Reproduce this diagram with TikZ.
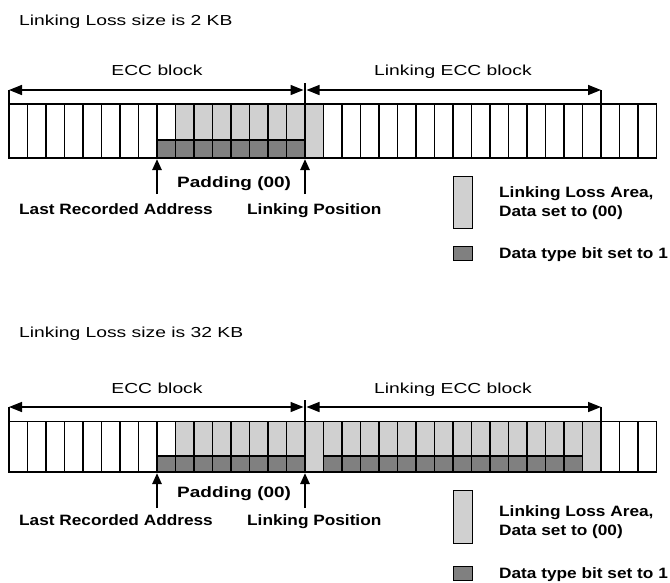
\documentclass[tikz,border=0pt]{standalone}
\usepackage{fontspec}
\usetikzlibrary{arrows.meta}
\newfontfamily\regfont[FakeStretch=1.33]{Liberation Sans}
\newfontfamily\bldfont[FakeStretch=1.15]{Liberation Sans}
\definecolor{lightfill}{RGB}{208,208,208}
\definecolor{darkfill}{RGB}{128,128,128}
\tikzset{
  cellbox/.style={draw=black, line width=1.3pt},
  plaintext/.style={inner sep=0pt, font=\regfont\fontsize{14.5}{17}\selectfont},
  boldtext/.style={inner sep=0pt, font=\bldfont\bfseries\fontsize{15}{18}\selectfont},
  dimarrow/.style={line width=1.5pt, {Triangle[length=13pt,width=10pt]}-{Triangle[length=13pt,width=10pt]}},
  tickline/.style={line width=1.3pt},
  blockline/.style={line width=2.8pt},
  uparrow/.style={line width=2.4pt, -{Triangle[length=11pt,width=9pt]}},
}
% #1 top, #2 mid, #3 bottom, #4 last index of the second dark run (0 = none)
\newcommand\drawstrip[4]{%
  \foreach \i in {0,...,34} {
    \pgfmathsetmacro\xl{9+\i*18.5}
    \pgfmathsetmacro\xr{9+(\i+1)*18.5}
    \pgfmathtruncatemacro\kind{\i<8 ? 0 : (\i==8 ? 1 : (\i<=15 ? 2 : (\i==16 ? 3 : (\i<=#4 ? 2 : (\i==#4+1 ? 3 : 0)))))}
    \ifcase\kind
      \draw[cellbox, fill=white] (\xl,#1) rectangle (\xr,#3);
    \or
      \draw[cellbox, fill=white] (\xl,#1) rectangle (\xr,#2);
      \draw[cellbox, fill=darkfill] (\xl,#2) rectangle (\xr,#3);
    \or
      \draw[cellbox, fill=lightfill] (\xl,#1) rectangle (\xr,#2);
      \draw[cellbox, fill=darkfill] (\xl,#2) rectangle (\xr,#3);
    \or
      \draw[cellbox, fill=lightfill] (\xl,#1) rectangle (\xr,#3);
    \fi
  }
}
\begin{document}
\begin{tikzpicture}[x=1pt, y=-1pt]
\useasboundingbox (0,0) rectangle (670,582);

% ===================== Row 1 =====================
\node[plaintext, anchor=base west] (title1) at (19,25) {Linking Loss size is 2 KB};
\drawstrip{104}{140}{158}{0}
\coordinate (a1l) at (9,90);
\coordinate (a1m) at (305,90);
\coordinate (a1r) at (601,90);
\coordinate (a1lb) at (9,104);
\coordinate (a1mt) at (305,83);
\coordinate (a1mb) at (305,104);
\coordinate (a1rb) at (601,104);
\draw[tickline] (a1l) -- (a1lb);
\draw[tickline] (a1r) -- (a1rb);
\draw[blockline] (a1mt) -- (a1mb);
\draw[dimarrow] (a1l) -- ([xshift=-1.5pt]a1m);
\draw[dimarrow] ([xshift=1.5pt]a1m) -- (a1r);
\node[plaintext, anchor=base] (ecc1) at (157,75) {ECC block};
\node[plaintext, anchor=base] (lecc1) at (453,75) {Linking ECC block};
\coordinate (lra1b) at (157,194);
\coordinate (lra1t) at (157,159);
\coordinate (lp1b) at (305,194);
\coordinate (lp1t) at (305,159);
\draw[uparrow] (lra1b) -- (lra1t);
\draw[uparrow] (lp1b) -- (lp1t);
\node[boldtext, anchor=base west] (pad1) at (177,187) {\scalebox{1.1}[1]{Padding (00)}};
\node[boldtext, anchor=base west] (lra1) at (19,214) {Last Recorded Address};
\node[boldtext, anchor=base west] (lp1) at (247,214) {Linking Position};
\node[cellbox, fill=lightfill, minimum width=19pt, minimum height=52pt, inner sep=0pt, anchor=north west] (leg1a) at (453,176) {};
\node[cellbox, fill=darkfill, minimum width=19pt, minimum height=14pt, inner sep=0pt, anchor=north west] (leg1b) at (453,246) {};
\node[boldtext, anchor=base west] (leg1t1) at (499,197) {Linking Loss Area,};
\node[boldtext, anchor=base west] (leg1t2) at (499,216) {Data set to (00)};
\node[boldtext, anchor=base west] (leg1t3) at (499,258) {Data type bit set to 1};

% ===================== Row 2 =====================
\node[plaintext, anchor=base west] (title2) at (19,337) {Linking Loss size is 32 KB};
\drawstrip{421.5}{456}{472}{30}
\coordinate (a2l) at (9,407);
\coordinate (a2m) at (305,407);
\coordinate (a2r) at (601,407);
\coordinate (a2lb) at (9,421.5);
\coordinate (a2mt) at (305,400);
\coordinate (a2mb) at (305,421.5);
\coordinate (a2rb) at (601,421.5);
\draw[tickline] (a2l) -- (a2lb);
\draw[tickline] (a2r) -- (a2rb);
\draw[blockline] (a2mt) -- (a2mb);
\draw[dimarrow] (a2l) -- ([xshift=-1.5pt]a2m);
\draw[dimarrow] ([xshift=1.5pt]a2m) -- (a2r);
\node[plaintext, anchor=base] (ecc2) at (157,393) {ECC block};
\node[plaintext, anchor=base] (lecc2) at (453,393) {Linking ECC block};
\coordinate (lra2b) at (157,508);
\coordinate (lra2t) at (157,473);
\coordinate (lp2b) at (305,508);
\coordinate (lp2t) at (305,473);
\draw[uparrow] (lra2b) -- (lra2t);
\draw[uparrow] (lp2b) -- (lp2t);
\node[boldtext, anchor=base west] (pad2) at (177,497) {\scalebox{1.1}[1]{Padding (00)}};
\node[boldtext, anchor=base west] (lra2) at (19,525) {Last Recorded Address};
\node[boldtext, anchor=base west] (lp2) at (247,525) {Linking Position};
\node[cellbox, fill=lightfill, minimum width=19pt, minimum height=53pt, inner sep=0pt, anchor=north west] (leg2a) at (453,490) {};
\node[cellbox, fill=darkfill, minimum width=19pt, minimum height=14pt, inner sep=0pt, anchor=north west] (leg2b) at (453,566) {};
\node[boldtext, anchor=base west] (leg2t1) at (499,516) {Linking Loss Area,};
\node[boldtext, anchor=base west] (leg2t2) at (499,535) {Data set to (00)};
\node[boldtext, anchor=base west] (leg2t3) at (499,578) {Data type bit set to 1};
\end{tikzpicture}
\end{document}
